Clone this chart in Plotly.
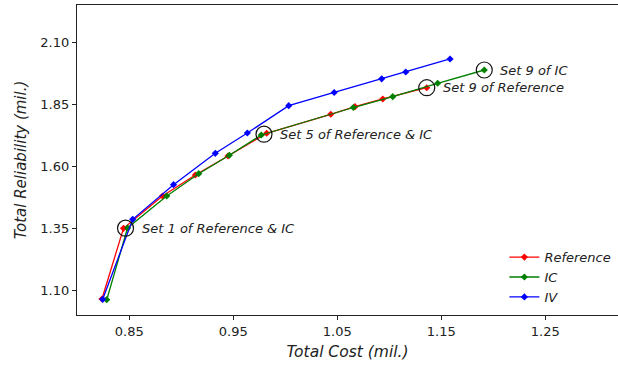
import plotly.graph_objects as go

# Total cost (mil.) and total reliability (mil.) for solution sets 0..9
ref_cost = [0.8237, 0.8444, 0.8819, 0.9135, 0.9449, 0.9821, 1.0437, 1.0670, 1.0937, 1.1360]
ref_rel = [1.0665, 1.3516, 1.4819, 1.5665, 1.6431, 1.7347, 1.8113, 1.8419, 1.8730, 1.9185]

ic_cost = [0.8283, 0.8483, 0.8860, 0.9167, 0.9462, 0.9769, 1.0654, 1.1033, 1.1465, 1.1913]
ic_rel = [1.0637, 1.3528, 1.4819, 1.5718, 1.6460, 1.7278, 1.8387, 1.8823, 1.9363, 1.9899]

iv_cost = [0.8244, 0.8533, 0.8925, 0.9327, 0.9635, 1.0033, 1.0470, 1.0927, 1.1158, 1.1584]
iv_rel = [1.0653, 1.3879, 1.5274, 1.6540, 1.7359, 1.8460, 1.8992, 1.9544, 1.9819, 2.0343]

x_ticks = [0.85, 0.95, 1.05, 1.15, 1.25]
y_ticks = [1.10, 1.35, 1.60, 1.85, 2.10]

FONT = "DejaVu Sans"

fig = go.Figure()
for name, xs, ys, color in [
    ("Reference", ref_cost, ref_rel, "#ff0000"),
    ("IC", ic_cost, ic_rel, "#008000"),
    ("IV", iv_cost, iv_rel, "#0000ff"),
]:
    fig.add_trace(go.Scatter(
        x=xs, y=ys, mode="lines+markers", name="<i>" + name + "</i>",
        line=dict(color=color, width=1.3),
        marker=dict(symbol="diamond", size=5.5, color=color),
    ))

# highlighted sets: (x, y, label)
highlights = [
    ((ref_cost[1] + ic_cost[1]) / 2, (ref_rel[1] + ic_rel[1]) / 2, "Set 1 of Reference & IC"),
    ((ref_cost[5] + ic_cost[5]) / 2, (ref_rel[5] + ic_rel[5]) / 2, "Set 5 of Reference & IC"),
    (ref_cost[9], ref_rel[9], "Set 9 of Reference"),
    (ic_cost[9], ic_rel[9], "Set 9 of IC"),
]
fig.add_trace(go.Scatter(
    x=[h[0] for h in highlights], y=[h[1] for h in highlights],
    mode="markers", showlegend=False, hoverinfo="skip",
    marker=dict(symbol="circle-open", size=16, color="#111111", line=dict(width=1.2)),
))
for hx, hy, label in highlights:
    fig.add_annotation(
        x=hx, y=hy, text="<i>" + label + "</i>", showarrow=False,
        xanchor="left", yanchor="middle", xshift=14,
        font=dict(family=FONT, size=13, color="#222222"),
    )

fig.update_layout(
    width=618, height=368,
    margin=dict(l=77, r=0, t=5, b=53),
    paper_bgcolor="white", plot_bgcolor="white",
    font=dict(family=FONT, size=13, color="#222222"),
    showlegend=True,
    legend=dict(
        x=0.79, y=0.235, xanchor="left", yanchor="top",
        bgcolor="rgba(255,255,255,0)", borderwidth=0,
        font=dict(family=FONT, size=13, color="#222222"),
        itemwidth=30, tracegroupgap=0,
    ),
)
fig.update_xaxes(
    range=[0.7997, 1.3199], tickvals=x_ticks, ticktext=[f"{v:.2f}" for v in x_ticks],
    showgrid=False, zeroline=False,
    showline=True, linecolor="#222222", linewidth=1.2, mirror=True,
    ticks="outside", ticklen=4, tickcolor="#222222",
    title=dict(text="<i>Total Cost (mil.)</i>", font=dict(family=FONT, size=15.5), standoff=8),
)
fig.update_yaxes(
    range=[1.002, 2.252], tickvals=y_ticks, ticktext=[f"{v:.2f}" for v in y_ticks],
    showgrid=False, zeroline=False,
    showline=True, linecolor="#222222", linewidth=1.2, mirror=False,
    ticks="outside", ticklen=4, tickcolor="#222222",
    title=dict(text="<i>Total Reliability (mil.)</i>", font=dict(family=FONT, size=15), standoff=10),
)

fig.write_html("out.html")
